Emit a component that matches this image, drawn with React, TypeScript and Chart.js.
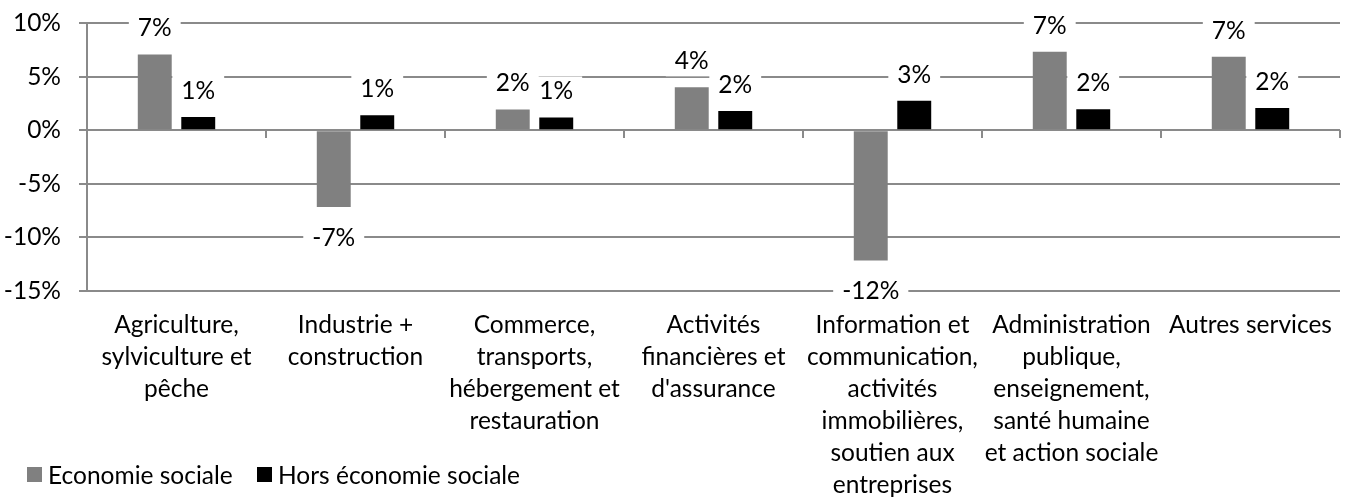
import React, { useEffect, useRef } from 'react';
import { Chart, registerables } from 'chart.js';

Chart.register(...registerables);

const categories: string[][] = [
  ['Agriculture,', 'sylviculture et', 'pêche'],
  ['Industrie +', 'construction'],
  ['Commerce,', 'transports,', 'hébergement et', 'restauration'],
  ['Activités', 'financières et', "d'assurance"],
  ['Information et', 'communication,', 'activités', 'immobilières,', 'soutien aux', 'entreprises'],
  ['Administration', 'publique,', 'enseignement,', 'santé humaine', 'et action sociale'],
  ['Autres services'],
];

const seriesNames = ['Economie sociale', 'Hors économie sociale'];
const seriesColors = ['#808080', '#000000'];

const economieSociale = [7.07, -7.17, 1.93, 4.0, -12.15, 7.32, 6.85];
const horsEconomieSociale = [1.24, 1.4, 1.19, 1.8, 2.74, 1.96, 2.06];

const yMin = -15;
const yMax = 10;
const yStep = 5;

const FONT = 'Lato, "Noto Sans", "Liberation Sans", sans-serif';
const FONT_SIZE = 24.5;
const GRID = '#8a8a8a';

const labelPlugin = {
  id: 'barLabels',
  afterDatasetsDraw(chart: any) {
    const ctx = chart.ctx;
    ctx.save();
    ctx.font = `${FONT_SIZE}px ${FONT}`;
    ctx.textAlign = 'center';
    ctx.textBaseline = 'middle';
    chart.data.datasets.forEach((ds: any, di: number) => {
      const meta = chart.getDatasetMeta(di);
      meta.data.forEach((bar: any, i: number) => {
        const v = ds.data[i] as number;
        const txt = Math.round(v) + '%';
        const y = v >= 0 ? bar.y - 26 : bar.y + 31;
        const w = ctx.measureText(txt).width + 18;
        ctx.fillStyle = '#ffffff';
        ctx.fillRect(bar.x - w / 2, y - 15, w, 30);
        ctx.fillStyle = '#000000';
        ctx.fillText(txt, bar.x, y);
      });
    });
    ctx.restore();
  },
};

const boundaryTicks = {
  id: 'boundaryTicks',
  beforeDatasetsDraw(chart: any) {
    const ctx = chart.ctx;
    const xs = chart.scales.x;
    const y0 = Math.round(chart.scales.y.getPixelForValue(0));
    const n = chart.data.labels.length;
    ctx.save();
    ctx.strokeStyle = GRID;
    ctx.lineWidth = 2;
    ctx.beginPath();
    for (let i = 1; i <= n; i++) {
      const px = Math.round(xs.left + (i * xs.width) / n);
      ctx.moveTo(px, y0);
      ctx.lineTo(px, y0 + 8);
    }
    ctx.stroke();
    ctx.restore();
  },
};

export default function App() {
  const ref = useRef<HTMLCanvasElement | null>(null);

  useEffect(() => {
    if (!ref.current) return;
    Chart.defaults.font.family = FONT;
    Chart.defaults.color = '#000000';
    const chart = new Chart(ref.current, {
      type: 'bar',
      data: {
        labels: categories,
        datasets: [
          {
            label: seriesNames[0],
            data: economieSociale,
            backgroundColor: seriesColors[0],
            categoryPercentage: 0.486,
            barPercentage: 0.78,
          },
          {
            label: seriesNames[1],
            data: horsEconomieSociale,
            backgroundColor: seriesColors[1],
            categoryPercentage: 0.486,
            barPercentage: 0.78,
          },
        ],
      },
      options: {
        responsive: false,
        animation: false,
        layout: { padding: { top: 23, right: 9, bottom: 0, left: 0 } },
        plugins: {
          legend: { display: false },
          tooltip: { enabled: false },
        },
        scales: {
          x: {
            grid: { display: false, drawTicks: false },
            border: { display: false },
            ticks: {
              font: { size: FONT_SIZE, lineHeight: 32 / FONT_SIZE },
              color: '#000000',
              padding: 18,
              maxRotation: 0,
              minRotation: 0,
              autoSkip: false,
            },
            afterFit: (scale: any) => {
              scale.height = 210;
              scale.paddingLeft = 0;
              scale.paddingRight = 0;
            },
          },
          y: {
            min: yMin,
            max: yMax,
            ticks: {
              stepSize: yStep,
              font: { size: FONT_SIZE },
              color: '#000000',
              padding: 18,
              callback: (v: any) => v + '%',
            },
            grid: {
              color: GRID,
              lineWidth: 2,
              drawTicks: true,
              tickLength: 8,
            },
            border: { display: true, color: GRID, width: 2 },
            afterFit: (scale: any) => {
              scale.width = 87;
              scale.paddingTop = 0;
              scale.paddingBottom = 0;
            },
          },
        },
      },
      plugins: [boundaryTicks, labelPlugin],
    });
    return () => chart.destroy();
  }, []);

  return (
    <div style={{ position: 'absolute', left: 0, top: 0, width: 1349, height: 501, background: '#fff' }}>
      <canvas ref={ref} width={1349} height={501} style={{ display: 'block' }} />
      {seriesNames.map((name, i) => (
        <div
          key={name}
          style={{
            position: 'absolute',
            left: i === 0 ? 27 : 257,
            top: 459,
            height: 30,
            display: 'flex',
            alignItems: 'center',
            fontFamily: FONT,
            fontSize: FONT_SIZE,
            color: '#000',
            whiteSpace: 'nowrap',
          }}
        >
          <span
            style={{
              display: 'inline-block',
              width: 15,
              height: 15,
              background: seriesColors[i],
              marginRight: 6,
            }}
          />
          {name}
        </div>
      ))}
    </div>
  );
}
